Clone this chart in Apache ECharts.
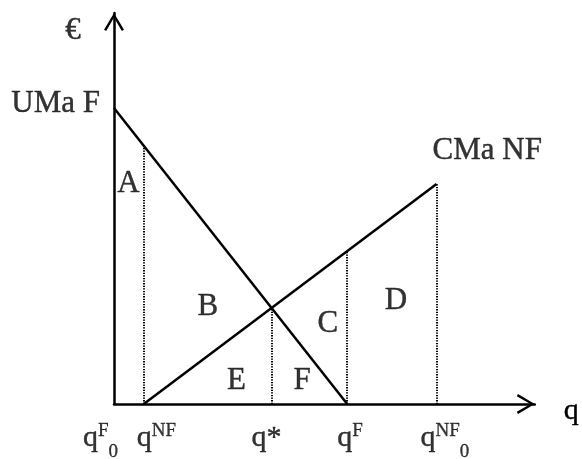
<!DOCTYPE html>
<html>
<head>
<meta charset="utf-8">
<script src="https://cdn.jsdelivr.net/npm/echarts@6/dist/echarts.min.js"></script>
<style>
  html, body { margin: 0; padding: 0; background: #fff; }
  #chart { width: 582px; height: 459px; }
</style>
</head>
<body>
<div id="chart"></div>
<script>
// axis ranges (q horizontally, € vertically)
const xMax = 424
const yMax = 391

// curve end points [q, €]
const umaF = [[0, 296], [235, 0]]
const cmaNF = [[30, 0], [325, 220]]

// region letters and where they sit
const regionNames = ['A', 'B', 'C', 'D', 'E', 'F']
const regionPos = [[14.5, 220.5], [94.5, 97], [215.5, 80.5], [284, 103], [123.5, 23.5], [189.5, 23.5]]

// tick labels under the q axis
const tickNames = ['qF0', 'qNF', 'qStar', 'qF', 'qNF0']
const tickTexts = [
  '{q|q}{sup|F}{sub|0}',
  '{q|q}{sup|NF}',
  '{q|q*}',
  '{q|q}{sup|F}',
  '{q|q}{sup|NF}{sub|0}',
]
const tickShift = [-31, -7, -20, -10, -16]

const FONT = '"Liberation Serif", "DejaVu Serif", serif'

const lineAt = (pts, x) => {
  const [[x1, y1], [x2, y2]] = pts
  return y1 + (y2 - y1) * (x - x1) / (x2 - x1)
}

// intersection of the two curves
const slopeU = (umaF[1][1] - umaF[0][1]) / (umaF[1][0] - umaF[0][0])
const slopeC = (cmaNF[1][1] - cmaNF[0][1]) / (cmaNF[1][0] - cmaNF[0][0])
const qStar = (cmaNF[0][1] - slopeC * cmaNF[0][0] - umaF[0][1] + slopeU * umaF[0][0]) / (slopeU - slopeC)

const qNF = cmaNF[0][0]
const qF = umaF[1][0]
const qNF0 = cmaNF[1][0]
const tickValues = [0, qNF, qStar, qF, qNF0]

const dotted = [
  [qNF, lineAt(umaF, qNF)],
  [qStar, lineAt(umaF, qStar)],
  [qF, lineAt(cmaNF, qF)],
  [qNF0, lineAt(cmaNF, qNF0)],
].map(([x, y]) => [{ coord: [x, 0] }, { coord: [x, y] }])

const chevron = 'path://M10,0 L20,16.8 L17.8,18 L10,4.4 L2.2,18 L0,16.8 Z'

const axisLine = {
  lineStyle: { color: '#000', width: 2.5 },
  symbol: ['none', chevron],
  symbolSize: [20, 18],
  symbolOffset: [0, -9],
}

// shared look for plain text
const txt = {
  fontFamily: FONT,
  fontSize: 31,
  color: '#000',
  textBorderColor: '#000',
  textBorderWidth: 0.4,
}

const chart = echarts.init(document.getElementById('chart'))
chart.setOption({
  animation: false,
  backgroundColor: '#fff',
  textStyle: { fontFamily: FONT, color: '#000' },
  grid: { left: 114, right: 44, top: 13, bottom: 55 },
  xAxis: {
    type: 'value',
    min: 0,
    max: xMax,
    name: 'q',
    nameLocation: 'end',
    nameGap: 29,
    nameTextStyle: Object.assign({}, txt, { fontSize: 30, verticalAlign: 'top', lineHeight: 14 }),
    axisLine: axisLine,
    axisTick: { show: false },
    axisLabel: { show: false },
    splitLine: { show: false },
  },
  yAxis: {
    type: 'value',
    min: 0,
    max: yMax,
    axisLine: axisLine,
    axisTick: { show: false },
    axisLabel: { show: false },
    splitLine: { show: false },
  },
  series: [
    {
      name: 'UMa F',
      type: 'line',
      data: umaF,
      showSymbol: false,
      lineStyle: { color: '#000', width: 2.5 },
      markLine: {
        silent: true,
        symbol: ['none', 'none'],
        label: { show: false },
        lineStyle: { color: '#000', width: 2, type: [1.3, 1.3] },
        data: dotted,
      },
    },
    {
      name: 'CMa NF',
      type: 'line',
      data: cmaNF,
      showSymbol: false,
      lineStyle: { color: '#000', width: 2.5 },
    },
    {
      // region letters
      type: 'scatter',
      symbolSize: 0,
      clip: false,
      label: Object.assign({ show: true, position: 'inside', formatter: p => p.name }, txt),
      data: regionNames.map((n, i) => ({ name: n, value: regionPos[i] })),
    },
    {
      // curve names and the € axis title
      type: 'scatter',
      symbolSize: 0,
      clip: false,
      label: Object.assign({ show: true, position: 'inside', formatter: p => p.name }, txt),
      data: [
        { name: 'UMa F', value: umaF[0], label: { align: 'right', offset: [-14, -4] } },
        { name: 'CMa NF', value: cmaNF[1], label: { align: 'left', offset: [-4, -33] } },
        { name: '€', value: [0, yMax], label: { offset: [-41, 18] } },
      ],
    },
    {
      // tick labels under the q axis
      type: 'scatter',
      symbolSize: 0,
      clip: false,
      data: tickValues.map((v, i) => ({
        name: tickNames[i],
        value: [v, 0],
        label: { offset: [tickShift[i], 34] },
      })),
      label: {
        show: true,
        position: 'inside',
        align: 'left',
        formatter: p => tickTexts[p.dataIndex],
        rich: {
          q: { fontFamily: FONT, fontSize: 30, color: '#000', textBorderColor: '#000', textBorderWidth: 0.4, lineHeight: 44, verticalAlign: 'middle' },
          sup: { fontFamily: FONT, fontSize: 19, color: '#000', textBorderColor: '#000', textBorderWidth: 0.3, height: 30, verticalAlign: 'top' },
          sub: { fontFamily: FONT, fontSize: 19, color: '#000', textBorderColor: '#000', textBorderWidth: 0.3, height: 16, verticalAlign: 'bottom' },
        },
      },
    },
  ],
})
</script>
</body>
</html>
